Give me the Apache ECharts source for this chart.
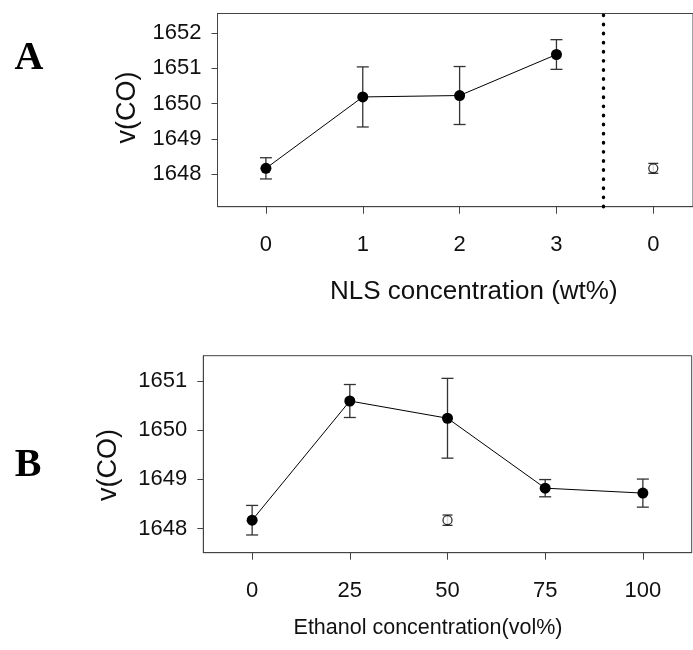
<!DOCTYPE html>
<html><head><meta charset="utf-8">
<script src="https://cdn.jsdelivr.net/npm/echarts@6/dist/echarts.min.js"></script>
<style>html,body{margin:0;padding:0;background:#fff}#c{width:693px;height:650px}</style>
</head><body><div id="c"></div>
<script>
// ---- Panel A: NLS concentration ----
const nlsX = [0, 1, 2, 3];
const nlsMean = [1648.17, 1650.19, 1650.23, 1651.39];
const nlsErr = [0.30, 0.85, 0.82, 0.42];
const nlsCtrlX = [4];
const nlsCtrlMean = [1648.17];
const nlsCtrlErr = [0.14];
const nlsTickValues = [0, 1, 2, 3, 4];
const nlsTickLabels = ['0', '1', '2', '3', '0'];
const nlsDividerX = 3.485;
const nlsYTicks = [1648, 1649, 1650, 1651, 1652];

// ---- Panel B: Ethanol concentration ----
const ethX = [0, 25, 50, 75, 100];
const ethMean = [1648.17, 1650.59, 1650.24, 1648.82, 1648.72];
const ethErr = [0.30, 0.335, 0.81, 0.175, 0.285];
const ethCtrlX = [50];
const ethCtrlMean = [1648.17];
const ethCtrlErr = [0.105];
const ethTickValues = [0, 25, 50, 75, 100];
const ethTickLabels = ['0', '25', '50', '75', '100'];
const ethYTicks = [1648, 1649, 1650, 1651];

const FONT = '"Liberation Sans", Arial, sans-serif';
const AXC = '#444';

function pts(xs, ys) { return xs.map((x, i) => [x, ys[i]]); }
function errData(xs, ys, es) { return xs.map((x, i) => [x, ys[i] - es[i], ys[i] + es[i]]); }
function errRender(capHalf) {
  return function (params, api) {
    const x = api.value(0), lo = api.value(1), hi = api.value(2);
    const a = api.coord([x, lo]), b = api.coord([x, hi]);
    const style = { stroke: '#333', lineWidth: 1.3, fill: null };
    return { type: 'group', children: [
      { type: 'line', shape: { x1: a[0], y1: a[1], x2: b[0], y2: b[1] }, style },
      { type: 'line', shape: { x1: a[0] - capHalf, y1: a[1], x2: a[0] + capHalf, y2: a[1] }, style },
      { type: 'line', shape: { x1: b[0] - capHalf, y1: b[1], x2: b[0] + capHalf, y2: b[1] }, style }
    ]};
  };
}
function xAxisOf(idx, min, max, vals, labels) {
  return {
    type: 'value', gridIndex: idx, min, max,
    axisLine: { show: true, onZero: false, lineStyle: { color: AXC, width: 1 } },
    axisTick: { show: true, inside: false, length: 7, customValues: vals, lineStyle: { color: AXC } },
    axisLabel: { customValues: vals, margin: 27, color: '#111', fontSize: 22, fontFamily: FONT,
      formatter: v => labels[vals.indexOf(v)] },
    splitLine: { show: false }
  };
}
function yAxisOf(idx, min, max, vals) {
  return {
    type: 'value', gridIndex: idx, min, max,
    axisLine: { show: true, onZero: false, lineStyle: { color: AXC, width: 1 } },
    axisTick: { show: true, inside: false, length: 6, customValues: vals, lineStyle: { color: AXC } },
    axisLabel: { customValues: vals, margin: 16, color: '#111', fontSize: 22, fontFamily: FONT,
      formatter: v => String(v) },
    splitLine: { show: false }
  };
}

const chart = echarts.init(document.getElementById('c'));
chart.setOption({
  animation: false,
  backgroundColor: '#fff',
  grid: [
    { left: 217.5, top: 13.5, right: 0, bottom: 443.3, show: true, borderColor: AXC, borderWidth: 1 },
    { left: 203.3, top: 355.7, right: 1.3, bottom: 97.3, show: true, borderColor: AXC, borderWidth: 1 }
  ],
  xAxis: [
    xAxisOf(0, -0.5, 4.41, nlsTickValues, nlsTickLabels),
    xAxisOf(1, -12.5, 112.5, ethTickValues, ethTickLabels)
  ],
  yAxis: [
    yAxisOf(0, 1647.085, 1652.55, nlsYTicks),
    yAxisOf(1, 1647.51, 1651.51, ethYTicks)
  ],
  series: [
    { type: 'custom', xAxisIndex: 0, yAxisIndex: 0, renderItem: errRender(6), data: errData(nlsX, nlsMean, nlsErr), z: 1, silent: true },
    { type: 'custom', xAxisIndex: 0, yAxisIndex: 0, renderItem: errRender(5), data: errData(nlsCtrlX, nlsCtrlMean, nlsCtrlErr), z: 1, silent: true },
    { type: 'line', xAxisIndex: 0, yAxisIndex: 0, data: pts(nlsX, nlsMean), symbol: 'circle', symbolSize: 11,
      lineStyle: { color: '#000', width: 1 }, itemStyle: { color: '#000' }, z: 3,
      markLine: { silent: true, symbol: 'none', label: { show: false },
        lineStyle: { color: '#000', width: 3.4, type: [0.5, 8.6], cap: 'round' },
        data: [{ xAxis: nlsDividerX }] } },
    { type: 'scatter', xAxisIndex: 0, yAxisIndex: 0, data: pts(nlsCtrlX, nlsCtrlMean), symbol: 'circle', symbolSize: 9,
      itemStyle: { color: '#fff', borderColor: '#000', borderWidth: 1.3 }, z: 3 },

    { type: 'custom', xAxisIndex: 1, yAxisIndex: 1, renderItem: errRender(6), data: errData(ethX, ethMean, ethErr), z: 1, silent: true },
    { type: 'custom', xAxisIndex: 1, yAxisIndex: 1, renderItem: errRender(5), data: errData(ethCtrlX, ethCtrlMean, ethCtrlErr), z: 1, silent: true },
    { type: 'line', xAxisIndex: 1, yAxisIndex: 1, data: pts(ethX, ethMean), symbol: 'circle', symbolSize: 11,
      lineStyle: { color: '#000', width: 1 }, itemStyle: { color: '#000' }, z: 3 },
    { type: 'scatter', xAxisIndex: 1, yAxisIndex: 1, data: pts(ethCtrlX, ethCtrlMean), symbol: 'circle', symbolSize: 9,
      itemStyle: { color: '#fff', borderColor: '#000', borderWidth: 1.3 }, z: 3 }
  ],
  graphic: [
    { type: 'text', x: 29, y: 59, style: { text: 'A', font: 'bold 40px "Liberation Serif", "Times New Roman", serif', fill: '#000', textAlign: 'center', textVerticalAlign: 'middle' } },
    { type: 'text', x: 28, y: 466, style: { text: 'B', font: 'bold 40px "Liberation Serif", "Times New Roman", serif', fill: '#000', textAlign: 'center', textVerticalAlign: 'middle' } },
    { type: 'text', x: 127.5, y: 107.5, rotation: Math.PI / 2, style: { text: 'v(CO)', font: '27px ' + FONT, fill: '#111', textAlign: 'center', textVerticalAlign: 'middle' } },
    { type: 'text', x: 109, y: 465, rotation: Math.PI / 2, style: { text: 'v(CO)', font: '27px ' + FONT, fill: '#111', textAlign: 'center', textVerticalAlign: 'middle' } },
    { type: 'text', x: 473.8, y: 292, style: { text: 'NLS concentration (wt%)', font: '26px ' + FONT, fill: '#111', textAlign: 'center', textVerticalAlign: 'middle' } },
    { type: 'text', x: 428, y: 628, style: { text: 'Ethanol concentration(vol%)', font: '21.5px ' + FONT, fill: '#111', textAlign: 'center', textVerticalAlign: 'middle' } }
  ]
});
</script>
</body></html>
